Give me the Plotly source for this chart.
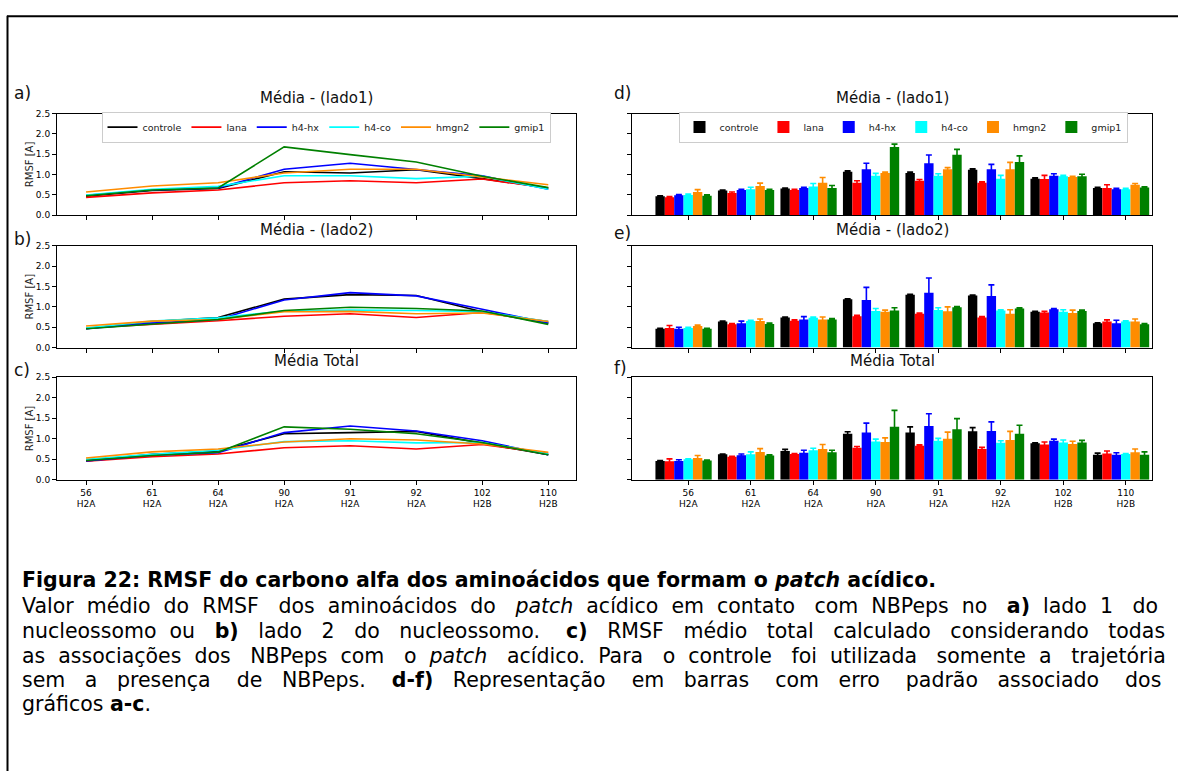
import plotly.graph_objects as go

# Residues of the acidic patch (x axis) and the histone chain of each one
residues = ["56", "61", "64", "90", "91", "92", "102", "110"]
chains = ["H2A", "H2A", "H2A", "H2A", "H2A", "H2A", "H2B", "H2B"]
tick_labels = [f"{r}<br>{c}" for r, c in zip(residues, chains)]

series_names = ["controle", "lana", "h4-hx", "h4-co", "hmgn2", "gmip1"]
series_colors = ["black", "red", "blue", "cyan", "darkorange", "green"]

y_ticks = [0.0, 0.5, 1.0, 1.5, 2.0, 2.5]

# Mean RMSF [A] per series (rows follow series_names) - side 1
lado1_mean = [
    [0.47, 0.61, 0.66, 1.07, 1.04, 1.12, 0.90, 0.67],
    [0.44, 0.55, 0.62, 0.80, 0.85, 0.80, 0.89, 0.67],
    [0.49, 0.62, 0.67, 1.13, 1.28, 1.13, 0.97, 0.64],
    [0.50, 0.64, 0.71, 0.97, 0.97, 0.90, 0.96, 0.64],
    [0.57, 0.72, 0.80, 1.04, 1.13, 1.13, 0.94, 0.75],
    [0.48, 0.62, 0.67, 1.68, 1.49, 1.31, 0.96, 0.68],
]
lado1_err = [
    [0.01, 0.01, 0.01, 0.02, 0.02, 0.02, 0.02, 0.02],
    [0.02, 0.02, 0.02, 0.05, 0.03, 0.02, 0.09, 0.08],
    [0.02, 0.02, 0.02, 0.15, 0.20, 0.12, 0.05, 0.02],
    [0.02, 0.05, 0.07, 0.06, 0.05, 0.08, 0.02, 0.02],
    [0.06, 0.07, 0.13, 0.02, 0.04, 0.17, 0.02, 0.03],
    [0.02, 0.02, 0.06, 0.07, 0.13, 0.15, 0.05, 0.02],
]

# Side 2
lado2_mean = [
    [0.46, 0.64, 0.74, 1.19, 1.30, 1.28, 0.88, 0.60],
    [0.48, 0.57, 0.66, 0.77, 0.83, 0.74, 0.86, 0.64],
    [0.46, 0.60, 0.69, 1.17, 1.35, 1.27, 0.94, 0.60],
    [0.48, 0.65, 0.73, 0.90, 0.92, 0.91, 0.88, 0.64],
    [0.53, 0.65, 0.69, 0.88, 0.89, 0.83, 0.85, 0.64],
    [0.46, 0.58, 0.69, 0.91, 0.99, 0.96, 0.90, 0.57],
]
lado2_err = [
    [0.01, 0.01, 0.01, 0.01, 0.01, 0.01, 0.01, 0.01],
    [0.06, 0.02, 0.02, 0.02, 0.02, 0.02, 0.03, 0.04],
    [0.04, 0.05, 0.07, 0.31, 0.36, 0.27, 0.02, 0.07],
    [0.02, 0.02, 0.02, 0.06, 0.06, 0.02, 0.05, 0.02],
    [0.02, 0.05, 0.06, 0.04, 0.11, 0.10, 0.07, 0.06],
    [0.01, 0.02, 0.02, 0.07, 0.02, 0.02, 0.02, 0.02],
]

# Both sides together
total_mean = [
    [0.46, 0.62, 0.70, 1.12, 1.15, 1.18, 0.89, 0.61],
    [0.45, 0.56, 0.63, 0.78, 0.83, 0.75, 0.86, 0.64],
    [0.46, 0.60, 0.66, 1.15, 1.31, 1.19, 0.95, 0.61],
    [0.50, 0.62, 0.72, 0.93, 0.95, 0.90, 0.91, 0.63],
    [0.53, 0.68, 0.75, 0.92, 1.00, 0.97, 0.87, 0.67],
    [0.47, 0.59, 0.67, 1.29, 1.23, 1.12, 0.91, 0.61],
]
total_err = [
    [0.01, 0.01, 0.04, 0.05, 0.14, 0.09, 0.01, 0.04],
    [0.06, 0.01, 0.01, 0.03, 0.02, 0.04, 0.06, 0.06],
    [0.03, 0.03, 0.06, 0.23, 0.30, 0.22, 0.04, 0.05],
    [0.01, 0.06, 0.05, 0.06, 0.06, 0.05, 0.06, 0.01],
    [0.06, 0.08, 0.11, 0.10, 0.16, 0.21, 0.07, 0.08],
    [0.01, 0.02, 0.05, 0.40, 0.26, 0.21, 0.05, 0.07],
]

panel_titles = ["Média - (lado1)", "Média - (lado2)", "Média Total"]

W, H = 1178, 776
CHART_FONT = "DejaVu Sans"
TEXT_FONT = "DejaVu Sans"
NBSP = "\u00a0"


def px_x(v):
    return v / W


def px_y(v):
    return 1 - v / H


# pixel boxes of the six axes: (left, right) and (top, bottom)
left_cols = (57, 576)
right_cols = (632, 1152)
rows = [(110, 213), (244, 347), (377, 481)]

idx = list(range(len(residues)))
fig = go.Figure()

panels = [lado1_mean, lado2_mean, total_mean]
errors = [lado1_err, lado2_err, total_err]

# line charts a-c
for r, means in enumerate(panels):
    ax = "" if r == 0 else str(r + 1)
    for k, name in enumerate(series_names):
        fig.add_trace(go.Scatter(
            x=idx, y=means[k], mode="lines", name=name,
            line=dict(color=series_colors[k], width=1.6),
            xaxis="x" + ax, yaxis="y" + ax,
            showlegend=(r == 0), legend="legend",
        ))

# bar charts d-f with standard error
bar_w = 0.15
for r, (means, errs) in enumerate(zip(panels, errors)):
    ax = str(r + 4)
    for k, name in enumerate(series_names):
        fig.add_trace(go.Bar(
            x=idx, y=means[k], name=name,
            width=bar_w, offset=-0.525 + bar_w * k,
            marker=dict(color=series_colors[k], line=dict(width=0)),
            error_y=dict(type="data", array=errs[k], visible=True,
                         color=series_colors[k], thickness=1.6, width=3),
            xaxis="x" + ax, yaxis="y" + ax,
            showlegend=(r == 0), legend="legend2",
        ))

axis_common = dict(
    showline=True, mirror=True, linecolor="black", linewidth=1,
    ticks="outside", ticklen=4, tickcolor="black", tickwidth=1,
    showgrid=False, zeroline=False,
    tickfont=dict(family=CHART_FONT, size=9, color="black"),
)

layout = dict(
    width=W, height=H,
    margin=dict(l=0, r=0, t=0, b=0),
    paper_bgcolor="white", plot_bgcolor="white",
    barmode="overlay",
    showlegend=True,
)

for r in range(3):
    top, bottom = rows[r]
    for c, cols in enumerate([left_cols, right_cols]):
        n = r + 1 + 3 * c
        sfx = "" if n == 1 else str(n)
        xa = dict(axis_common)
        xa.update(
            domain=[px_x(cols[0]), px_x(cols[1])],
            anchor="y" + sfx,
            tickmode="array", tickvals=idx,
            ticktext=tick_labels if r == 2 else [""] * len(idx),
            range=[-0.44, 7.42] if c == 0 else [-0.9, 7.42],
        )
        ya = dict(axis_common)
        ya.update(
            domain=[px_y(bottom), px_y(top)],
            anchor="x" + sfx,
            range=[0, 2.5], tickmode="array", tickvals=y_ticks,
            ticktext=[f"{v:.1f}" for v in y_ticks],
            showticklabels=(c == 0),
        )
        if c == 0:
            ya["title"] = dict(text="RMSF [A]", standoff=0,
                               font=dict(family=CHART_FONT, size=10, color="#222"))
        layout["xaxis" + sfx] = xa
        layout["yaxis" + sfx] = ya

legend_common = dict(
    orientation="h", xanchor="center", yanchor="top",
    bgcolor="white", bordercolor="#cccccc", borderwidth=1,
    font=dict(family=CHART_FONT, size=9.5, color="#222"),
    itemwidth=30, tracegroupgap=0,
)
layout["legend"] = dict(legend_common, x=px_x(326), y=px_y(108))
layout["legend2"] = dict(legend_common, x=px_x(903), y=px_y(108))

fig.update_layout(**layout)

annotations = []
title_rows = [94, 228, 361]
for r, title in enumerate(panel_titles):
    for cols in (left_cols, right_cols):
        annotations.append(dict(
            x=px_x((cols[0] + cols[1]) / 2), y=px_y(title_rows[r]),
            xref="paper", yref="paper", xanchor="center", yanchor="middle",
            text=title, showarrow=False,
            font=dict(family=CHART_FONT, size=15, color="#111"),
        ))

panel_letters = [("a)", 12, 89), ("b)", 12, 237), ("c)", 12, 370),
                 ("d)", 612, 89), ("e)", 612, 231), ("f)", 612, 368)]
for txt, x, y in panel_letters:
    annotations.append(dict(
        x=px_x(x), y=px_y(y), xref="paper", yref="paper",
        xanchor="left", yanchor="middle", text=txt, showarrow=False,
        font=dict(family=CHART_FONT, size=17, color="#111"),
    ))


def justify(line, extra):
    """Spread `extra` non-breaking spaces over the word gaps of a line."""
    words = line.split(" ")
    gaps = len(words) - 1
    out = words[0]
    for i, w in enumerate(words[1:]):
        n = extra * (i + 1) // gaps - extra * i // gaps
        out += " " + NBSP * n + w
    return out


caption_title = ("<b>Figura 22: RMSF do carbono alfa dos aminoácidos que formam o "
                 "<i>patch</i> acídico.</b>")
caption_body = [
    "Valor médio do RMSF dos aminoácidos do <i>patch</i> acídico em contato com NBPeps no <b>a)</b> lado 1 do",
    "nucleossomo ou <b>b)</b> lado 2 do nucleossomo." + NBSP + " <b>c)</b> RMSF médio total calculado considerando todas",
    "as associações dos NBPeps com o <i>patch</i> acídico. Para o controle foi utilizada somente a trajetória",
    "sem a presença de NBPeps. <b>d-f)</b> Representação em barras com erro padrão associado dos",
    "gráficos <b>a-c</b>.",
]
# extra spacing that fills each justified line up to the right margin
caption_fill = [22, 25, 22, 32, 0]

caption_y = [583, 609, 634, 659, 684, 708]
caption_texts = [caption_title] + [
    justify(t, n) if n else t for t, n in zip(caption_body, caption_fill)
]
for line, y in zip(caption_texts, caption_y):
    annotations.append(dict(
        x=px_x(20), y=px_y(y), xref="paper", yref="paper",
        xanchor="left", yanchor="middle", text=line, showarrow=False,
        font=dict(family=TEXT_FONT, size=20.5, color="black"),
    ))

fig.update_layout(annotations=annotations)

# page frame on the left and top edges
fig.update_layout(shapes=[
    dict(type="line", xref="paper", yref="paper",
         x0=px_x(7.5), x1=px_x(7.5), y0=0, y1=px_y(11),
         line=dict(color="black", width=2)),
    dict(type="line", xref="paper", yref="paper",
         x0=px_x(7), x1=1, y0=px_y(11.5), y1=px_y(11.5),
         line=dict(color="black", width=2)),
])

fig.write_html("out.html")
